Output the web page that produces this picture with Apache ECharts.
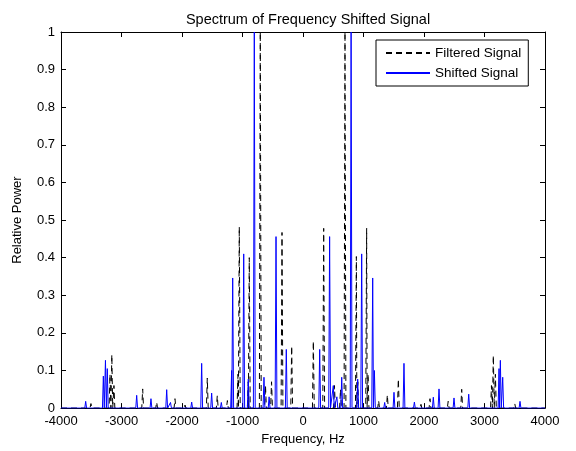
<!DOCTYPE html>
<html>
<head>
<meta charset="utf-8">
<script src="https://cdn.jsdelivr.net/npm/echarts@6/dist/echarts.min.js"></script>
<style>
html,body{margin:0;padding:0;background:#fff;}
#chart{width:576px;height:451px;}
</style>
</head>
<body>
<div id="chart"></div>
<script>
// Peak frequencies (Hz) and relative powers
const filteredFreq = [-3505, -3190, -3160, -3125, -2650, -2419, -2116, -1950, -1582, -1417, -1250, -1075, -1053, -905, -888, -706, -620, -520, -347, -187,
  171, 342, 520, 620, 694, 882, 905, 1052, 1075, 1250, 1394, 1576, 1950, 2099, 2400, 2623, 3115, 3146, 3180, 3500];
const filteredPower = [0.012, 0.09, 0.142, 0.06, 0.051, 0.016, 0.025, 0.008, 0.080, 0.033, 0.02, 0.09, 0.482, 0.07, 0.400, 1.0, 0.06, 0.07, 0.467, 0.165,
  0.178, 0.478, 0.06, 0.05, 1.0, 0.403, 0.07, 0.478, 0.09, 0.02, 0.035, 0.077, 0.01, 0.025, 0.018, 0.050, 0.06, 0.14, 0.09, 0.012];

const shiftedFreq = [-3592, -3300, -3265, -3235, -2749, -2513, -2253, -2190, -1840, -1675, -1510, -1350, -1180, -1162, -980, -904, -805, -645, -560, -446, -276,
  276, 440, 501, 560, 640, 795, 904, 970, 1152, 1180, 1350, 1504, 1669, 1841, 2154, 2248, 2496, 2739, 3240, 3262, 3301, 3587];
const shiftedPower = [0.018, 0.085, 0.127, 0.105, 0.034, 0.025, 0.049, 0.015, 0.016, 0.119, 0.040, 0.015, 0.10, 0.346, 0.410, 0.077, 1.0, 0.082, 0.03, 0.456, 0.156,
  0.156, 0.456, 0.06, 0.03, 0.082, 1.0, 0.077, 0.410, 0.346, 0.10, 0.015, 0.042, 0.119, 0.016, 0.029, 0.051, 0.027, 0.037, 0.105, 0.127, 0.082, 0.018];

const xTicks = [-4000, -3000, -2000, -1000, 0, 1000, 2000, 3000, 4000];
const yTicks = [0, 0.1, 0.2, 0.3, 0.4, 0.5, 0.6, 0.7, 0.8, 0.9, 1];

function spikes(freqs, powers, hw) {
  const pts = [[-4000, 0], [4000, 0]];
  for (let i = 0; i < freqs.length; i++) {
    pts.push([freqs[i] - hw, 0], [freqs[i], powers[i]], [freqs[i] + hw, 0]);
  }
  pts.sort((a, b) => a[0] - b[0]);
  return pts;
}

const font = 'Liberation Sans, Arial, sans-serif';
const chart = echarts.init(document.getElementById('chart'));
const axisCommon = {
  axisLine: {show: true, onZero: false, lineStyle: {color: '#000', width: 1}},
  axisTick: {show: true, inside: true, length: 5, lineStyle: {color: '#000'}},
  splitLine: {show: false}
};
chart.setOption({
  animation: false,
  backgroundColor: '#fff',
  title: {
    text: 'Spectrum of Frequency Shifted Signal',
    left: 303, top: 7, textAlign: 'center',
    textStyle: {fontFamily: font, fontSize: 14.5, fontWeight: 'normal', color: '#000'}
  },
  grid: {left: 61, right: 31, top: 32, bottom: 40},
  legend: {
    left: 376, top: 40, orient: 'vertical',
    backgroundColor: '#fff', borderColor: '#000', borderWidth: 1, borderRadius: 0,
    padding: [6, 7, 6, 9], itemGap: 6, itemWidth: 44, itemHeight: 14, itemTextGap: 7,
    itemStyle: {opacity: 0},
    textStyle: {fontFamily: font, fontSize: 13.5, color: '#000'},
    data: ['Filtered Signal', 'Shifted Signal']
  },
  xAxis: [
    Object.assign({
      type: 'value', min: xTicks[0], max: xTicks[xTicks.length - 1], interval: 1000, position: 'bottom',
      name: 'Frequency, Hz', nameLocation: 'middle', nameGap: 23,
      nameTextStyle: {fontFamily: font, fontSize: 13, color: '#000'},
      axisLabel: {fontFamily: font, fontSize: 13, color: '#000', margin: 7, formatter: v => String(v)}
    }, axisCommon),
    Object.assign({
      type: 'value', min: xTicks[0], max: xTicks[xTicks.length - 1], interval: 1000, position: 'top',
      axisLabel: {show: false}
    }, axisCommon)
  ],
  yAxis: [
    Object.assign({
      type: 'value', min: yTicks[0], max: yTicks[yTicks.length - 1], interval: 0.1, position: 'left',
      name: 'Relative Power', nameLocation: 'middle', nameGap: 37,
      nameTextStyle: {fontFamily: font, fontSize: 13, color: '#000'},
      axisLabel: {fontFamily: font, fontSize: 13, color: '#000', margin: 6, formatter: v => String(Math.round(v * 10) / 10)}
    }, axisCommon),
    Object.assign({
      type: 'value', min: yTicks[0], max: yTicks[yTicks.length - 1], interval: 0.1, position: 'right',
      axisLabel: {show: false}
    }, axisCommon)
  ],
  series: [
    {
      name: 'Filtered Signal', type: 'line', symbol: 'none', showSymbol: false,
      data: spikes(filteredFreq, filteredPower, 15),
      lineStyle: {color: '#000', width: 1, type: [6, 4]},
      itemStyle: {color: '#000'}, z: 2
    },
    {
      name: 'Shifted Signal', type: 'line', symbol: 'none', showSymbol: false,
      data: spikes(shiftedFreq, shiftedPower, 15),
      lineStyle: {color: '#0000ff', width: 1, type: 'solid'},
      itemStyle: {color: '#0000ff'}, z: 3
    }
  ]
});
</script>
</body>
</html>
